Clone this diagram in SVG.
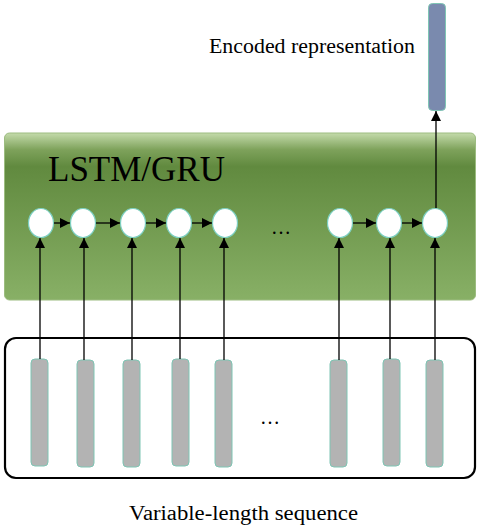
<svg xmlns="http://www.w3.org/2000/svg" width="482" height="530" viewBox="0 0 482 530">
<defs>
<linearGradient id="gr" x1="0" y1="0" x2="0" y2="1">
<stop offset="0" stop-color="#c4dbab"/>
<stop offset="0.1" stop-color="#7ea25b"/>
<stop offset="0.2" stop-color="#618a3f"/>
<stop offset="1" stop-color="#88b066"/>
</linearGradient>
<marker id="ah" viewBox="0 0 10 10" refX="10" refY="5" markerWidth="10" markerHeight="10" markerUnits="userSpaceOnUse" orient="auto">
<path d="M0,0 L10,5 L0,10 z" fill="#000"/>
</marker>
</defs>
<style>
.t{font-family:"Liberation Serif","Times New Roman",serif;fill:#000}
.c{fill:#fff;stroke:#7ccfc0;stroke-width:1.2}
.b{fill:#b3b3b3;stroke:#7ec5b4;stroke-width:1}
.a{stroke:#000;stroke-width:1.3;fill:none;marker-end:url(#ah)}
</style>
<rect width="482" height="530" fill="#fff"/>
<g id="rnn">
<rect x="4.5" y="133" width="471" height="167" rx="5" fill="url(#gr)" stroke="#9cbc80" stroke-width="1"/>
<text class="t" x="48" y="181" font-size="35">LSTM/GRU</text>
</g>
<g id="input-seq">
<rect x="5" y="338" width="470" height="140" rx="11" fill="#fff" stroke="#000" stroke-width="2.2"/>
</g>
<g id="output">
<rect x="428.5" y="3.5" width="17" height="107" rx="4" fill="#7a8aae" stroke="#7ec5b4" stroke-width="1"/>
<text class="t" x="209" y="53" font-size="20" textLength="206" lengthAdjust="spacingAndGlyphs">Encoded representation</text>
</g>
<g id="bars">
<rect class="b" x="31" y="359" width="17" height="107" rx="4"/>
<rect class="b" x="77" y="360" width="17" height="107" rx="4"/>
<rect class="b" x="123" y="360" width="17" height="107" rx="4"/>
<rect class="b" x="172" y="359" width="17" height="107" rx="4"/>
<rect class="b" x="215" y="360" width="17" height="107" rx="4"/>
<rect class="b" x="330" y="360" width="17" height="107" rx="4"/>
<rect class="b" x="383" y="359" width="17" height="107" rx="4"/>
<rect class="b" x="426" y="360" width="17" height="107" rx="4"/>
<text class="t" x="270" y="424" font-size="20" text-anchor="middle">…</text>
</g>
<g id="cells">
<ellipse class="c" cx="41" cy="223" rx="12.5" ry="14.5"/>
<ellipse class="c" cx="83" cy="223" rx="12.5" ry="14.5"/>
<ellipse class="c" cx="133" cy="223" rx="12.5" ry="14.5"/>
<ellipse class="c" cx="179" cy="223" rx="12.5" ry="14.5"/>
<ellipse class="c" cx="225" cy="223" rx="12.5" ry="14.5"/>
<ellipse class="c" cx="340" cy="223" rx="12.5" ry="14.5"/>
<ellipse class="c" cx="389" cy="223" rx="12.5" ry="14.5"/>
<ellipse class="c" cx="435" cy="223" rx="12.5" ry="14.5"/>
<text class="t" x="281" y="234" font-size="20" text-anchor="middle">…</text>
</g>
<g id="connectors">
<line class="a" x1="54" y1="223" x2="70" y2="223"/>
<line class="a" x1="96" y1="223" x2="120" y2="223"/>
<line class="a" x1="146" y1="223" x2="166" y2="223"/>
<line class="a" x1="192" y1="223" x2="212" y2="223"/>
<line class="a" x1="353" y1="223" x2="376" y2="223"/>
<line class="a" x1="402" y1="223" x2="422" y2="223"/>
<line class="a" x1="40" y1="359" x2="40" y2="238"/>
<line class="a" x1="84" y1="360" x2="84" y2="238"/>
<line class="a" x1="132" y1="360" x2="132" y2="238"/>
<line class="a" x1="180" y1="359" x2="180" y2="238"/>
<line class="a" x1="224" y1="360" x2="224" y2="238"/>
<line class="a" x1="339" y1="360" x2="339" y2="238"/>
<line class="a" x1="390" y1="359" x2="390" y2="238"/>
<line class="a" x1="435" y1="360" x2="435" y2="238"/>
<line class="a" x1="436" y1="208" x2="436" y2="111"/>
</g>
<text class="t" x="129" y="520" font-size="20" textLength="229" lengthAdjust="spacingAndGlyphs">Variable-length sequence</text>
</svg>
